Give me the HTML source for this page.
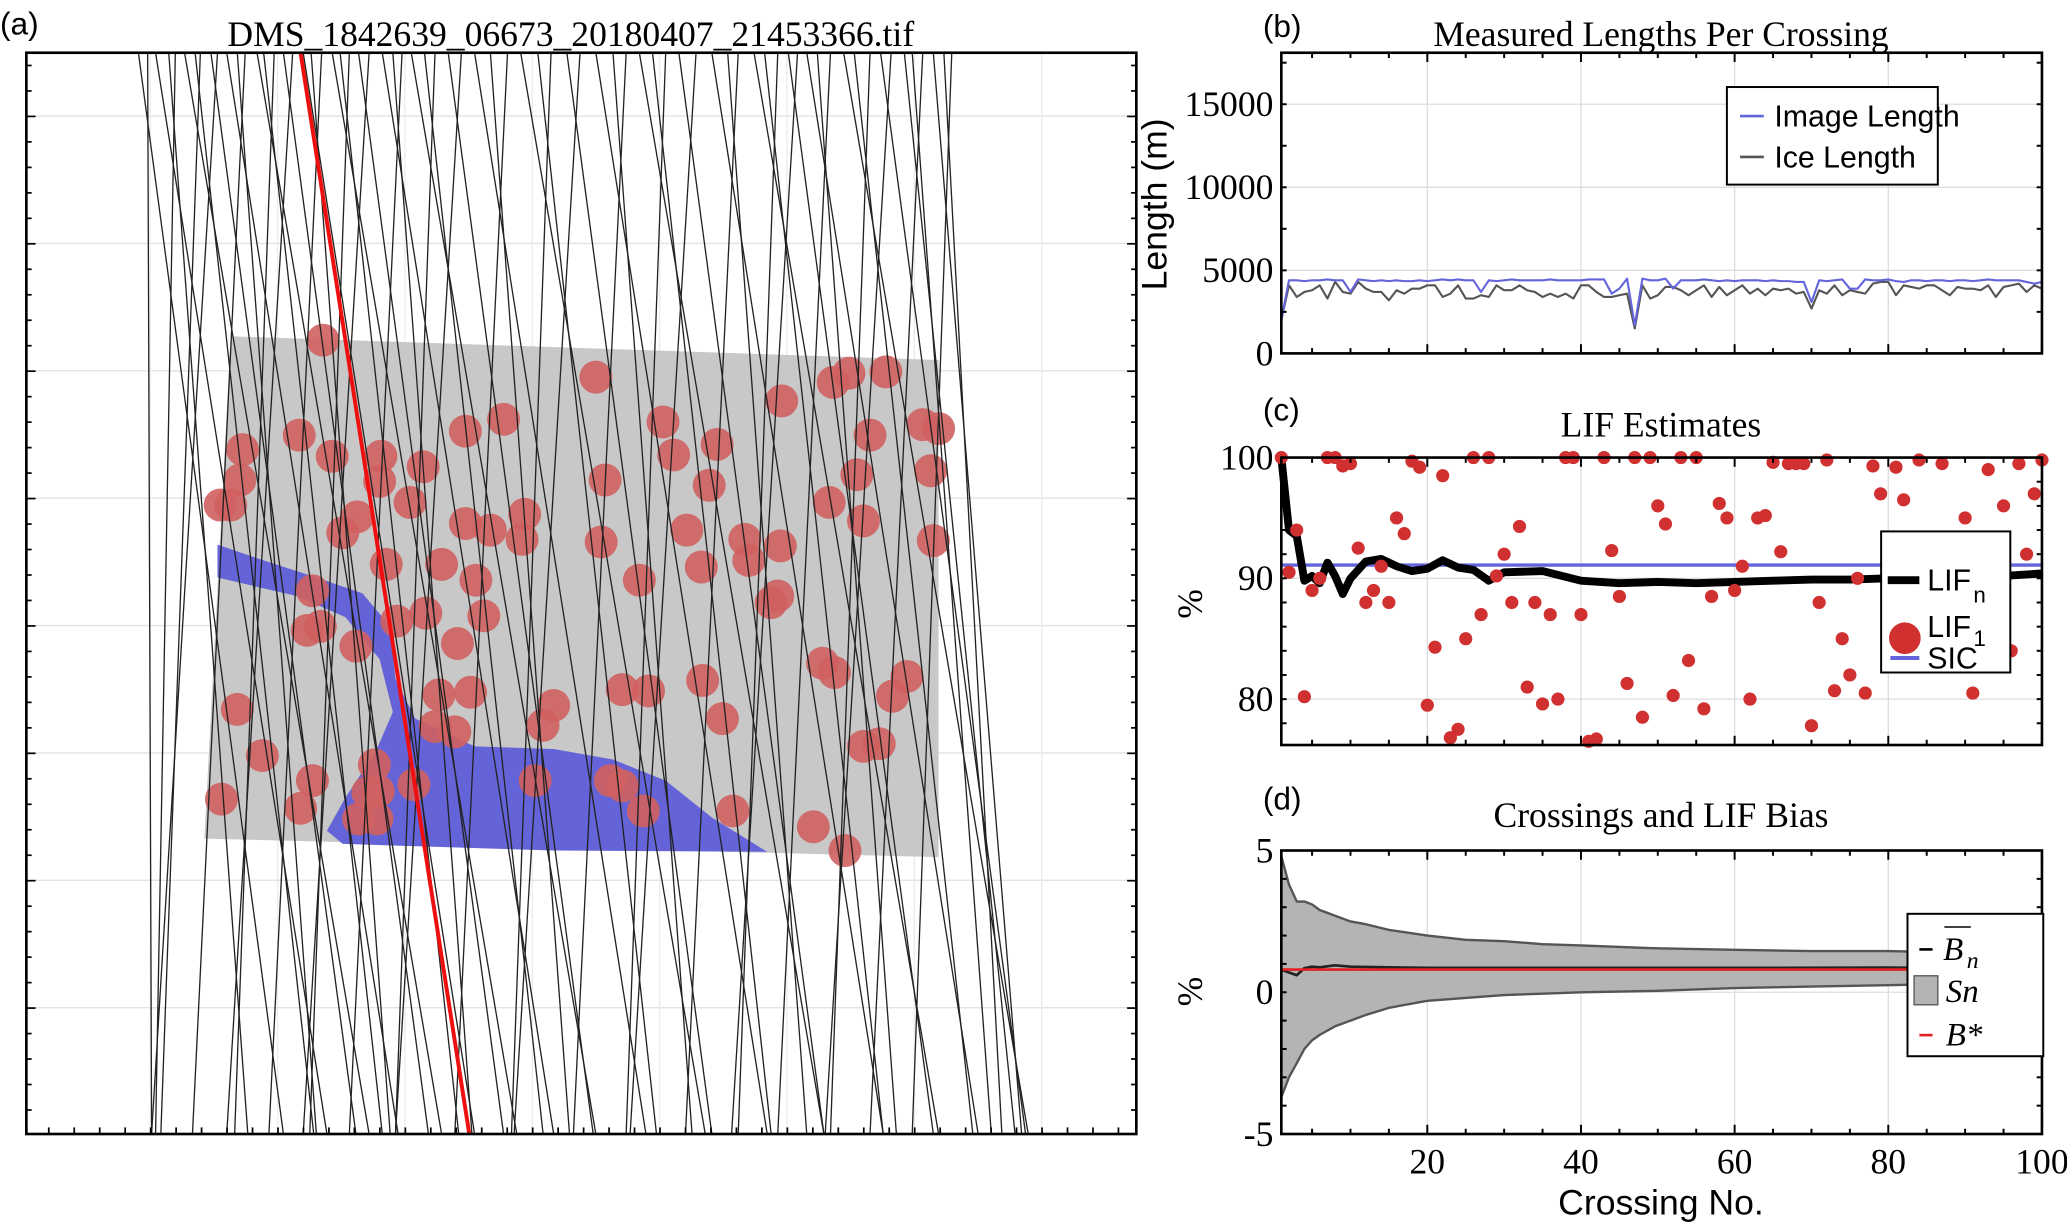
<!DOCTYPE html>
<html><head><meta charset="utf-8"><style>
html,body{margin:0;padding:0;background:#fff;}
svg{display:block;}
.ser{font-family:"Liberation Serif",serif;}
.san{font-family:"Liberation Sans",sans-serif;}
</style></head><body>
<svg id="fig" width="2067" height="1225" viewBox="0 0 1568 929" preserveAspectRatio="none" xmlns="http://www.w3.org/2000/svg">
<rect width="1568" height="929" fill="#fff"/>
<g id="pa"></g>
<g id="pb"></g>
<g id="pc"></g>
<g id="pd"></g>
</svg>
<script>
// ---- panel b data ----
const imageLength=[2000,4400,4400,4350,4400,4400,4450,4400,4400,3700,4450,4400,4350,4400,4350,4400,4350,4350,4400,4350,4400,4450,4400,4450,4400,4400,3700,4400,4350,4400,4450,4400,4400,4400,4400,4450,4400,4400,4400,4400,4450,4450,4450,3600,3900,4500,1700,4500,4400,4400,4500,3900,4400,4400,4400,4450,4400,4350,4400,4350,4400,4400,4400,4350,4400,4350,4350,4300,4300,3100,4400,4350,4400,4450,3900,3900,4450,4400,4400,4450,4350,4300,4400,4400,4350,4400,4400,4350,4400,4400,4350,4400,4450,4400,4400,4400,4400,4300,4200,4300];
const iceLength=[2000,4100,3400,3700,3800,4100,3300,4300,3700,3600,4300,3900,3700,3700,3200,3800,3600,3900,3900,4100,4100,3400,3600,4100,3300,3300,3500,3400,4100,3800,3800,4100,3800,3700,3400,3600,3400,3600,3300,4100,4100,3700,3400,3400,3500,3600,1500,4100,3300,3500,4000,4000,3800,3500,3800,4100,3400,4000,3500,3800,4100,3600,3900,3500,3900,3800,3900,3600,3700,2700,3800,3600,4100,3500,3800,3700,3600,4200,4300,4300,3500,4100,4000,3900,4100,4100,3800,3500,4000,3900,3900,3800,4100,3400,4000,4100,4200,3700,4100,3900];
// ---- panel c data ----
const lif1=[100,90.5,94,80.2,89,90,100,100,99.3,99.5,92.5,88,89,91,88,95,93.7,99.7,99.2,79.5,84.3,98.5,76.8,77.5,85,100,87,100,90.2,92,88,94.3,81,88,79.6,87,80,100,100,87,76.5,76.7,100,92.3,88.5,81.3,100,78.5,100,96,94.5,80.3,100,83.2,100,79.2,88.5,96.2,95,89,91,80,95,95.2,99.6,92.2,99.5,99.5,99.5,77.8,88,99.8,80.7,85,82,90,80.5,99.3,97,85,99.2,96.5,92.2,99.8,90.5,88,99.5,91,86,95,80.5,93,99,88,96,84,99.5,92,97,99.8];
const lifnX=[1,2,3,4,5,6,7,8,9,10,12,14,16,18,20,22,24,26,28,30,35,40,45,50,55,60,65,70,75,80,85,90,95,100];
const lifnY=[100,94,93.5,89.8,90.2,89.6,91.3,90.2,88.7,90.0,91.4,91.6,91.0,90.6,90.8,91.5,90.9,90.7,89.8,90.5,90.6,89.8,89.6,89.7,89.6,89.7,89.8,89.9,89.9,90.0,90.2,89.9,90.2,90.4];
const sicValue=[91.1];
// ---- panel d data ----
const bandX=[1,2,3,4,5,6,8,10,12,15,20,25,30,35,40,50,60,70,80,90,100];
const bandUpper=[4.8,3.8,3.2,3.2,3.1,2.9,2.7,2.5,2.4,2.2,2.0,1.85,1.8,1.7,1.65,1.55,1.5,1.45,1.45,1.4,1.4];
const bandLower=[-3.7,-3.0,-2.5,-2.0,-1.7,-1.5,-1.2,-1.0,-0.8,-0.55,-0.3,-0.2,-0.1,-0.05,0.0,0.05,0.15,0.2,0.25,0.3,0.35];
const bnX=[1,2,3,4,5,6,8,10,15,20,40,60,80,100];
const bnY=[0.8,0.7,0.6,0.85,0.9,0.88,0.95,0.9,0.88,0.86,0.86,0.86,0.87,0.86];
const bStar=[0.8];
// ---- panel a data ----
const lineTop=[105,112,118,128,133,140,148,152,160,165,172,180,186,195,200,208,215,222,230,236,244,252,258,265,272,280,290,298,305,312,322,330,340,350,360,372,385,395,408,418,430,440,452,465,475,485,495,505,515,528,540,552,560,572,580,590,598,605,612,620,630,640,648,660,668,676,686,692,700,708,716,722];
const lineBot=[215,115,248,188,118,280,238,122,270,115,302,240,146,335,290,178,325,172,360,296,204,392,348,235,382,230,420,358,265,452,412,300,450,300,490,432,345,535,498,388,540,390,582,525,435,625,585,475,625,478,670,612,520,712,670,560,708,555,742,680,590,780,738,630,778,626,770,752,660,775,760,692];
const circX=[245,452,672,632,644,593,184,227,252,289,321,353,382,503,511,544,660,700,712,650,182,175,167,459,538,706,629,655,288,311,271,260,353,372,396,398,456,521,565,592,708,568,293,335,361,485,532,237,233,243,301,323,367,270,347,585,590,624,633,180,333,357,420,472,492,533,548,330,345,412,688,677,199,284,655,667,168,237,228,279,286,272,314,406,463,488,472,556,617,641,287];
const circY=[258,286,282,290,283,304,341,330,346,346,354,327,318,320,345,337,330,322,325,360,364,383,383,364,368,357,381,395,365,381,392,404,397,402,409,390,411,402,409,414,410,425,428,428,440,440,430,448,478,475,471,465,467,490,488,457,452,503,510,538,527,525,535,523,524,516,545,551,555,550,513,528,573,580,566,564,606,592,613,601,621,621,595,592,592,615,596,615,627,645,600];

const NS="http://www.w3.org/2000/svg";
function mk(parent,tag,attrs){const e=document.createElementNS(NS,tag);for(const k in attrs)e.setAttribute(k,attrs[k]);parent.appendChild(e);return e;}
function txt(parent,x,y,s,size,cls,anchor){const t=mk(parent,'text',{x:x,y:y,'font-size':size,'class':cls,'text-anchor':anchor||'middle'});t.textContent=s;return t;}

const X0=972,X1=1549;
const xs=v=>X0+(v-1)/99*(X1-X0);

function axesBox(g,top,bot,name,ymin,ymax,yticks){
  const ys=v=>bot-(v-ymin)/(ymax-ymin)*(bot-top);
  [20,40,60,80].forEach(v=>{const l=mk(g,'line',{x1:xs(v),x2:xs(v),y1:top,y2:bot,stroke:'#ddd','stroke-width':1});
    });
  yticks.forEach(v=>{const l=mk(g,'line',{x1:X0,x2:X1,y1:ys(v),y2:ys(v),stroke:'#ddd','stroke-width':1});
    });
  return ys;
}
function frame(g,top,bot,name,ys,yticks,ylabs,ymin,ymax,minorStep){
  const r=mk(g,'rect',{x:X0,y:top,width:X1-X0,height:bot-top,fill:'none',stroke:'#000','stroke-width':2});
  
  for(let v=5;v<=100;v+=5){const L=v%20===0?7:4;
    const a=mk(g,'line',{x1:xs(v),x2:xs(v),y1:bot,y2:bot-L,stroke:'#000','stroke-width':1.5});
    
    const b=mk(g,'line',{x1:xs(v),x2:xs(v),y1:top,y2:top+L,stroke:'#000','stroke-width':1.5});
    }
  for(let v=ymin;v<=ymax+1e-9;v+=minorStep){
    const a=mk(g,'line',{x1:X0,x2:X0+4,y1:ys(v),y2:ys(v),stroke:'#000','stroke-width':1.5});
    
    const b=mk(g,'line',{x1:X1,x2:X1-4,y1:ys(v),y2:ys(v),stroke:'#000','stroke-width':1.5});
    }
  yticks.forEach((v,i)=>{const t=txt(g,X0-6,ys(v)+9,ylabs[i],27,'ser','end');
    });
}
function polyline(g,xsArr,ysArr,ys,stroke,w,name){
  const pts=xsArr.map((x,i)=>xs(x).toFixed(1)+','+ys(ysArr[i]).toFixed(1)).join(' ');
  const p=mk(g,'polyline',{points:pts,fill:'none',stroke:stroke,'stroke-width':w,'stroke-linejoin':'round'});
  return p;
}

// ===== Panel B =====
(function(){
  const g=document.getElementById('pb');const top=40,bot=268;
  const ys=axesBox(g,top,bot,'b',0,18100,[0,5000,10000,15000]);
  const idx=imageLength.map((_,i)=>i+1);
  polyline(g,idx,iceLength,ys,'#555',1.6,'ice-length-line');
  polyline(g,idx,imageLength,ys,'#6464dc',1.6,'image-length-line');
  frame(g,top,bot,'b',ys,[0,5000,10000,15000],['0','5000','10000','15000'],0,17500,2500);
  let t=txt(g,1260,35,'Measured Lengths Per Crossing',27,'ser');
  t=txt(g,958,28,'(b)',24,'san','start');
  t=txt(g,885,155,'Length (m)',27,'san');t.setAttribute('transform','rotate(-90 885 155)');
  const lg=mk(g,'g',{});
  mk(lg,'rect',{x:1310,y:66,width:160,height:74,fill:'#fff',stroke:'#000','stroke-width':1.5});
  mk(lg,'line',{x1:1320,x2:1338,y1:88,y2:88,stroke:'#6464dc','stroke-width':2});
  mk(lg,'line',{x1:1320,x2:1338,y1:119,y2:119,stroke:'#555','stroke-width':2});
  t=txt(lg,1346,96,'Image Length',23,'san','start');
  t=txt(lg,1346,127,'Ice Length',23,'san','start');
})();

// ===== Panel C =====
(function(){
  const g=document.getElementById('pc');const top=347,bot=565;
  const ys=axesBox(g,top,bot,'c',76.2,100,[80,90,100]);
  const sic=mk(g,'line',{x1:X0,x2:X1,y1:ys(sicValue[0]),y2:ys(sicValue[0]),stroke:'#6464dc','stroke-width':2.5});
  
  polyline(g,lifnX,lifnY,ys,'#000',6,'lif-n-line');
  lif1.forEach((v,i)=>{const c=mk(g,'circle',{cx:xs(i+1),cy:ys(v),r:5,fill:'#d03030'});
    });
  frame(g,top,bot,'c',ys,[80,90,100],['80','90','100'],78,100,2);
  let t=txt(g,1260,331,'LIF Estimates',27,'ser');
  t=txt(g,958,319,'(c)',24,'san','start');
  t=txt(g,912,458,'%',27,'ser');t.setAttribute('transform','rotate(-90 912 458)');
  const lg=mk(g,'g',{});
  mk(lg,'rect',{x:1427,y:403,width:98,height:107,fill:'#fff',stroke:'#000','stroke-width':1.5});
  mk(lg,'line',{x1:1432,x2:1456,y1:440,y2:440,stroke:'#000','stroke-width':6});
  mk(lg,'circle',{cx:1445,cy:484,r:12,fill:'#d03030'});
  mk(lg,'line',{x1:1434,x2:1456,y1:499,y2:499,stroke:'#6464dc','stroke-width':3});
  t=txt(lg,1462,448,'LIF',23,'san','start');
  txt(lg,1497,457,'n',17,'san','start');
  t=txt(lg,1462,483,'LIF',23,'san','start');
  txt(lg,1497,490,'1',17,'san','start');
  t=txt(lg,1462,507,'SIC',23,'san','start');
})();

// ===== Panel D =====
(function(){
  const g=document.getElementById('pd');const top=645,bot=860;
  const ys=axesBox(g,top,bot,'d',-5,5,[-5,0,5]);
  const up=bandX.map((x,i)=>xs(x).toFixed(1)+','+ys(bandUpper[i]).toFixed(1));
  const lo=bandX.map((x,i)=>xs(x).toFixed(1)+','+ys(bandLower[i]).toFixed(1)).reverse();
  const band=mk(g,'polygon',{points:up.concat(lo).join(' '),fill:'#b4b4b4',stroke:'none'});
  
  polyline(g,bandX,bandUpper,ys,'#555',1.8,'sn-upper-edge');
  polyline(g,bandX,bandLower,ys,'#555',1.8,'sn-lower-edge');
  polyline(g,bnX,bnY,ys,'#222',2,'b-n-line');
  const bs=mk(g,'line',{x1:X0,x2:X1,y1:ys(bStar[0]),y2:ys(bStar[0]),stroke:'#e52020','stroke-width':2});
  
  frame(g,top,bot,'d',ys,[-5,0,5],['-5','0','5'],-5,5,1);
  [20,40,60,80,100].forEach(v=>{const t=txt(g,xs(v),890,String(v),27,'ser');});
  let t=txt(g,1260,627,'Crossings and LIF Bias',27,'ser');
  t=txt(g,958,614,'(d)',24,'san','start');
  t=txt(g,1260,921,'Crossing No.',27,'san');
  t=txt(g,912,752,'%',27,'ser');t.setAttribute('transform','rotate(-90 912 752)');
  const lg=mk(g,'g',{});
  mk(lg,'rect',{x:1447,y:693,width:103,height:108,fill:'#fff',stroke:'#000','stroke-width':1.5});
  mk(lg,'line',{x1:1456,x2:1466,y1:720,y2:720,stroke:'#000','stroke-width':2});
  mk(lg,'line',{x1:1475,x2:1495,y1:703,y2:703,stroke:'#000','stroke-width':1.2});
  t=txt(lg,1474,728,'B',25,'ser','start');t.setAttribute('font-style','italic');
  const n1=txt(lg,1492,734,'n',18,'ser','start');n1.setAttribute('font-style','italic');
  mk(lg,'rect',{x:1452,y:740,width:18,height:22,fill:'#b4b4b4',stroke:'#555','stroke-width':1});
  t=txt(lg,1476,760,'Sn',25,'ser','start');t.setAttribute('font-style','italic');
  mk(lg,'line',{x1:1456,x2:1466,y1:785,y2:785,stroke:'#e52020','stroke-width':2});
  t=txt(lg,1476,793,'B*',25,'ser','start');t.setAttribute('font-style','italic');
})();

// ===== Panel A =====
(function(){
  const g=document.getElementById('pa');const L=20,R=862,T=40,B=860;
  let t=txt(g,433,35,'DMS_1842639_06673_20180407_21453366.tif',27,'ser');
  t=txt(g,0,26,'(a)',24,'san','start');
  for(let y=88;y<B;y+=96.6){const l=mk(g,'line',{x1:L,x2:R,y1:y,y2:y,stroke:'#e2e2e2','stroke-width':1});}
  for(let x=114;x<R;x+=96.6){const l=mk(g,'line',{x1:x,x2:x,y1:T,y2:B,stroke:'#ececec','stroke-width':1});}
  const img=mk(g,'polygon',{points:'175,255 712,273 712,650 155,636',fill:'#c8c8c8'});
  
  const ice=mk(g,'polygon',{points:'165,413 200,425 240,438 275,450 296,475 300,515 315,545 360,566 420,568 465,576 505,592 540,620 582,646 420,645 260,640 248,630 262,605 285,570 298,540 288,500 262,468 225,452 165,438',fill:'#6464d8'});
  
  circX.forEach((cx,i)=>{const c=mk(g,'circle',{cx:cx,cy:circY[i],r:12.5,fill:'#d06060','fill-opacity':0.9});
    });
  lineTop.forEach((x,i)=>{const l=mk(g,'line',{x1:x,y1:T,x2:lineBot[i],y2:B,stroke:'#222','stroke-width':1});
    });
  const rl=mk(g,'line',{x1:228,y1:T,x2:356,y2:B,stroke:'#ee1010','stroke-width':3});
  
  const fr=mk(g,'rect',{x:L,y:T,width:R-L,height:B-T,fill:'none',stroke:'#000','stroke-width':2});
  
  for(let y=T+9.66;y<B;y+=19.32){const big=Math.abs(((y-88)/96.6)-Math.round((y-88)/96.6))<0.05;
    const a=mk(g,'line',{x1:L,x2:L+(big?7:4),y1:y,y2:y,stroke:'#000','stroke-width':1.3});
    const b=mk(g,'line',{x1:R,x2:R-(big?7:4),y1:y,y2:y,stroke:'#000','stroke-width':1.3});}
  for(let x=37;x<R;x+=19.32){
    const a=mk(g,'line',{x1:x,x2:x,y1:B,y2:B-5,stroke:'#000','stroke-width':1.3});}
})();
</script>
</body></html>
